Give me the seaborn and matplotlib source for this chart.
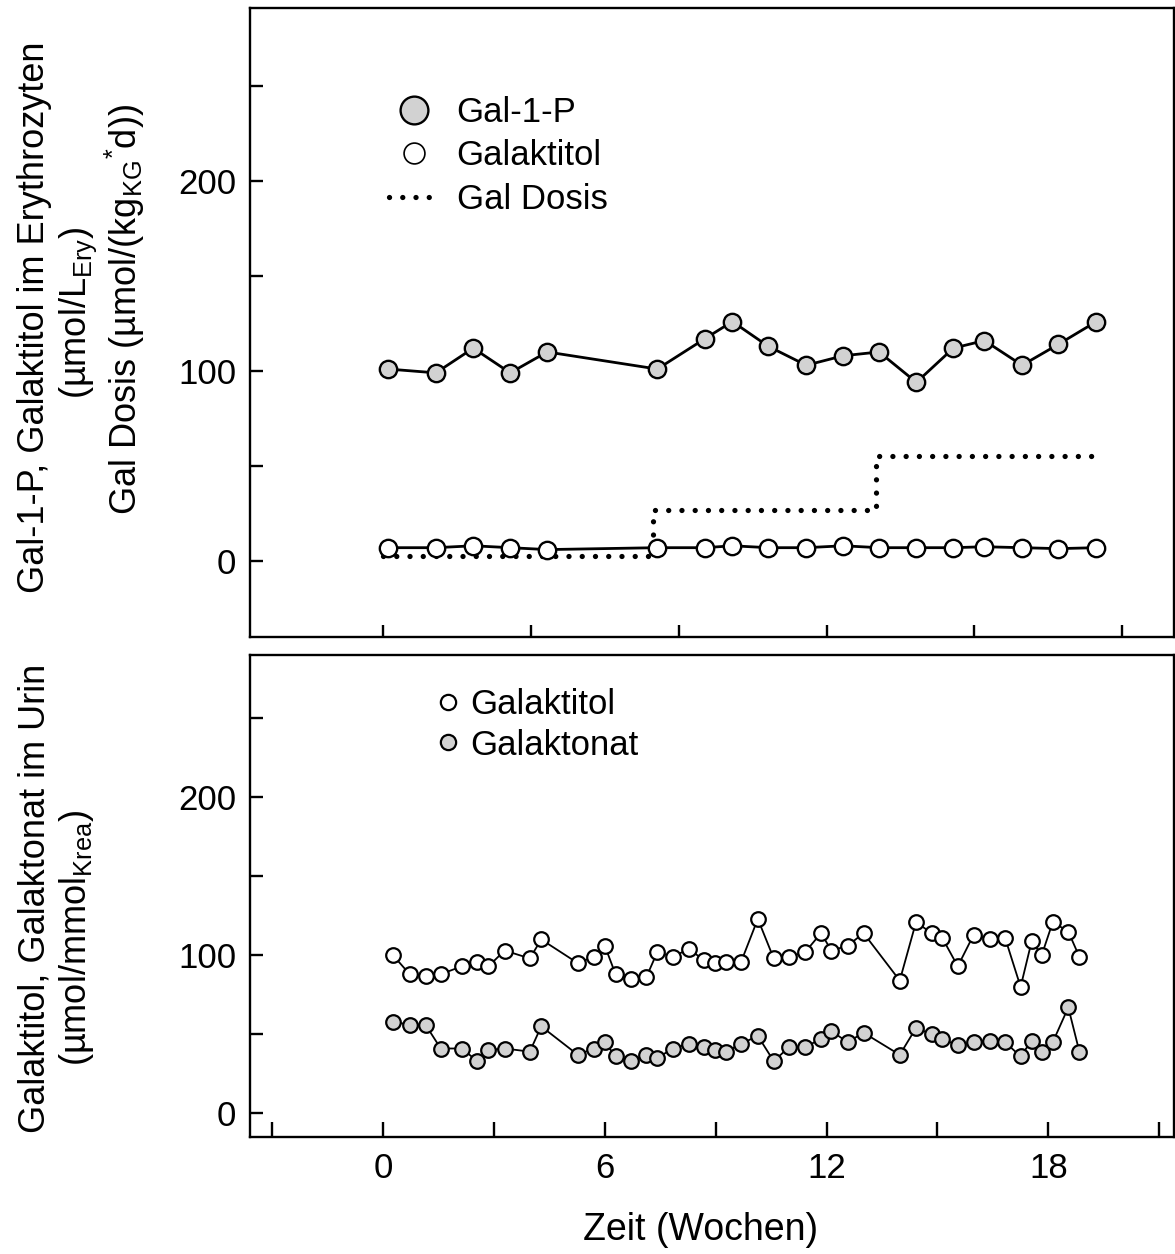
import seaborn as sns
import matplotlib.pyplot as plt
import matplotlib.lines as mlines
import pandas as pd
import numpy as np

# DATA
# top panel: erythrocytes
ery_weeks = [0.14, 1.43, 2.44, 3.44, 4.44, 7.42, 8.71, 9.45, 10.42, 11.45, 12.45,
             13.42, 14.43, 15.43, 16.27, 17.29, 18.27, 19.30]
gal1p = [101, 99, 112, 99, 110, 101, 117, 126, 113, 103, 108, 110, 94, 112, 116, 103, 114, 126]
galaktitol_ery = [7, 7, 8, 7, 6, 7, 7, 8, 7, 7, 8, 7, 7, 7, 7.5, 7, 6.5, 7]
dose_weeks = [0.0, 7.3, 13.35, 19.4]
gal_dose = [2.5, 27, 55, 55]

# bottom panel: urine
urin_weeks = [0.27, 0.72, 1.15, 1.56, 2.13, 2.55, 2.85, 3.29, 3.97, 4.28, 5.27, 5.70, 6.00,
              6.29, 6.71, 7.12, 7.42, 7.84, 8.27, 8.68, 8.97, 9.28, 9.69, 10.14, 10.57, 10.99,
              11.42, 11.85, 12.13, 12.57, 13.00, 13.98, 14.42, 14.84, 15.13, 15.55, 15.98,
              16.41, 16.83, 17.25, 17.55, 17.82, 18.12, 18.54, 18.84]
galaktitol_urin = [100, 88, 87, 88, 93, 96, 93, 103, 98, 110, 95, 99, 106, 88, 85, 86, 102, 99,
                   104, 97, 95, 96, 96, 123, 98, 99, 102, 114, 103, 106, 114, 84, 121, 114, 111,
                   93, 113, 110, 111, 80, 109, 100, 121, 115, 99]
galaktonat_urin = [58, 56, 56, 41, 41, 33, 40, 41, 39, 55, 37, 41, 45, 36, 33, 37, 35, 41, 44,
                   42, 40, 39, 44, 49, 33, 42, 42, 47, 52, 45, 51, 37, 54, 50, 47, 43, 45, 46,
                   45, 36, 46, 39, 45, 67, 39]

sns.set_style('ticks')
plt.rcParams['font.family'] = ['Liberation Sans', 'DejaVu Sans']
plt.rcParams['mathtext.default'] = 'regular'
plt.rcParams['text.color'] = 'black'
plt.rcParams['axes.labelcolor'] = 'black'
plt.rcParams['xtick.color'] = 'black'
plt.rcParams['ytick.color'] = 'black'

GREY = '#d2d2d2'
DOTS = (0, (0.01, 2.5))

fig = plt.figure(figsize=(11.75, 12.54), dpi=100)
W, H = 1175, 1254
ax_top = fig.add_axes([250 / W, 1 - 637 / H, 924 / W, 629 / H])
ax_bot = fig.add_axes([250 / W, 1 - 1137 / H, 924 / W, 482 / H])

#### TOP PANEL
sns.lineplot(x=dose_weeks, y=gal_dose, ax=ax_top, color='black', drawstyle='steps-post',
             linewidth=3.8, linestyle=DOTS, dash_capstyle='round', zorder=2)
sns.lineplot(x=ery_weeks, y=galaktitol_ery, ax=ax_top, color='black', linewidth=2.0,
             marker='o', markersize=12.5, markerfacecolor='white', markeredgecolor='black',
             markeredgewidth=1.7, estimator=None, sort=False, zorder=3)
sns.lineplot(x=ery_weeks, y=gal1p, ax=ax_top, color='black', linewidth=2.0,
             marker='o', markersize=12.5, markerfacecolor=GREY, markeredgecolor='black',
             markeredgewidth=1.7, estimator=None, sort=False, zorder=3)

ax_top.set_xlim(-3.6, 21.4)
ax_top.set_ylim(-40, 291)
ax_top.set_xticks(np.arange(0, 21, 4))
ax_top.set_xticklabels([])
ax_top.set_yticks(np.arange(0, 251, 50))
ax_top.set_yticklabels(['0', '', '100', '', '200', ''])

handles_top = [
    mlines.Line2D([], [], linestyle='none', marker='o', markersize=20, markerfacecolor=GREY,
                  markeredgecolor='black', markeredgewidth=1.7),
    mlines.Line2D([], [], linestyle='none', marker='o', markersize=15, markerfacecolor='white',
                  markeredgecolor='black', markeredgewidth=1.2),
    mlines.Line2D([], [], color='black', linewidth=3.8, linestyle=DOTS,
                  dash_capstyle='round'),
]
ax_top.legend(handles_top, ['Gal-1-P', 'Galaktitol', 'Gal Dosis'], loc='upper left',
              bbox_to_anchor=((389 - 250) / 924, (637 - 96) / 629), frameon=False,
              fontsize=25, handlelength=1.45, handletextpad=0.5, labelspacing=0.3,
              borderpad=0, borderaxespad=0)

#### BOTTOM PANEL
sns.lineplot(x=urin_weeks, y=galaktitol_urin, ax=ax_bot, color='black', linewidth=1.3,
             marker='o', markersize=10.5, markerfacecolor='white', markeredgecolor='black',
             markeredgewidth=1.6, estimator=None, sort=False)
sns.lineplot(x=urin_weeks, y=galaktonat_urin, ax=ax_bot, color='black', linewidth=1.3,
             marker='o', markersize=10.5, markerfacecolor=GREY, markeredgecolor='black',
             markeredgewidth=1.6, estimator=None, sort=False)

ax_bot.set_xlim(-3.6, 21.4)
ax_bot.set_ylim(-15, 290)
ax_bot.set_xticks(np.arange(-3, 22, 3))
ax_bot.set_xticklabels(['', '0', '', '6', '', '12', '', '18', ''])
ax_bot.set_yticks(np.arange(0, 251, 50))
ax_bot.set_yticklabels(['0', '', '100', '', '200', ''])

handles_bot = [
    mlines.Line2D([], [], linestyle='none', marker='o', markersize=11, markerfacecolor='white',
                  markeredgecolor='black', markeredgewidth=1.6),
    mlines.Line2D([], [], linestyle='none', marker='o', markersize=11, markerfacecolor=GREY,
                  markeredgecolor='black', markeredgewidth=1.6),
]
ax_bot.legend(handles_bot, ['Galaktitol', 'Galaktonat'], loc='upper left',
              bbox_to_anchor=((437 - 250) / 924, (1137 - 688) / 482), frameon=False,
              fontsize=25, handlelength=0.65, handletextpad=0.3, labelspacing=0.22,
              borderpad=0, borderaxespad=0)

for ax in (ax_top, ax_bot):
    ax.set_xlabel('')
    ax.set_ylabel('')
    for sp in ax.spines.values():
        sp.set_visible(True)
        sp.set_linewidth(1.7)
        sp.set_color('black')
    ax.tick_params(axis='both', direction='in', length=9, width=1.7, colors='black',
                   labelsize=25, top=False, right=False)
    ax.tick_params(axis='y', pad=10)
    ax.tick_params(axis='x', pad=11)
ax_bot.tick_params(axis='x', length=11)

# axis titles
fig.text(35 / W, 1 - 317 / H, 'Gal-1-P, Galaktitol im Erythrozyten', rotation=90,
         ha='center', va='center', fontsize=26)
fig.text(78 / W, 1 - 313 / H, r'(µmol/L$_{Ery}$)', rotation=90,
         ha='center', va='center', fontsize=26)
fig.text(125 / W, 1 - 310 / H, r'Gal Dosis (µmol/(kg$_{KG}$$^{*}$d))', rotation=90,
         ha='center', va='center', fontsize=26)
fig.text(35 / W, 1 - 898 / H, 'Galaktitol, Galaktonat im Urin', rotation=90,
         ha='center', va='center', fontsize=26)
fig.text(76 / W, 1 - 938 / H, r'(µmol/mmol$_{Krea}$)', rotation=90,
         ha='center', va='center', fontsize=26)
fig.text(701 / W, 1 - 1230 / H, 'Zeit (Wochen)', ha='center', va='center', fontsize=27)

fig.savefig('out.png', dpi=100)
